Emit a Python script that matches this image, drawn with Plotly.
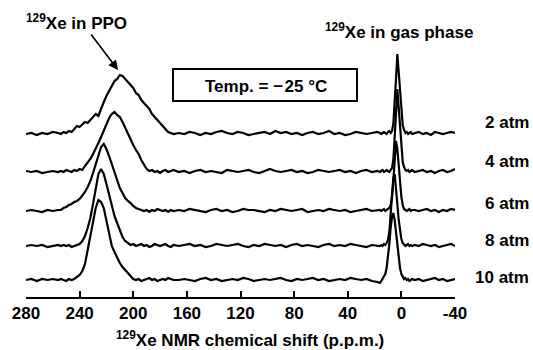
import plotly.graph_objects as go

# ---------------- data ----------------
# chemical-shift grid (p.p.m.)
ppm = ([280, 276, 272, 268, 264, 260, 256]
       + list(range(254, 169, -2))
       + list(range(166, 17, -4))
       + list(range(16, -9, -1))
       + list(range(-10, -41, -3)))

pressures = ["2 atm", "4 atm", "6 atm", "8 atm", "10 atm"]
# vertical offset of each spectrum's baseline (arbitrary stacking units)
offsets = [163, 125, 86, 51, 17]

spec_2atm = ([0, 1, -1, 1, 0, 2, 1]
             + [0, 2, 1, 3, 2, 5, 8, 7, 10, 12,
                11, 14, 16, 20, 18, 26, 32, 38, 43, 48,
                53, 55, 59, 58, 55, 52, 49, 46, 41, 39,
                34, 31, 28, 25, 20, 17, 14, 10, 8, 5,
                2, 1, 0]
             + [1, 0, 2, 1, -1, 1, 0, 2, 3, 1, 0, 2, 1, -1, 0, 1, 2, 0, 3, 1,
                2, 0, 1, -1, 1, 2, 0, 1, 3, 0, 1, -1, 0, 2, 1, 0, 1, 2]
             + [1, 0, 1, 2, 1, 0, 2, 3, 1, 3, 10, 28, 55, 80, 62, 38, 20, 9, 4, 1,
                2, 0, 1, 2, 0]
             + [1, 2, 0, 1, -1, 2, 1, 0, 1, 2, 1])

spec_4atm = ([1, 0, 1, -1, 0, 1, 0]
             + [1, 0, 2, 1, 0, 2, 1, 3, 2, 6,
                9, 13, 18, 23, 29, 35, 42, 49, 54, 58,
                60, 57, 55, 50, 44, 38, 32, 27, 22, 18,
                12, 7, 3, 1, 2, 0, 1, -1, 1, 2,
                0, 1, 2]
             + [0, 1, -1, 1, 2, 0, 1, 0, -1, 2, 1, 0, 1, 2, 0, -1, 1, 3, 1, 0,
                1, 2, 0, 1, -1, 0, 2, 1, 0, 1, 2, 0, 1, -1, 1, 2, 0, 1]
             + [0, 1, 2, 0, 1, 2, 1, 0, 2, 4, 12, 30, 58, 83, 65, 40, 22, 10, 5, 2,
                1, 2, 0, 1, 2]
             + [0, 1, 2, 0, 1, -1, 1, 2, 0, 1, 3])

spec_6atm = ([0, 1, 0, -1, 1, 0, 1]
             + [1, 3, 4, 6, 7, 9, 10, 12, 15, 19,
                24, 30, 38, 46, 56, 64, 67, 62, 55, 47,
                38, 30, 23, 18, 13, 10, 8, 5, 3, 2,
                1, 0, 1, -1, 1, 0, 2, 1, 0, 1,
                -1, 1, 0]
             + [1, 0, 2, 1, 0, -1, 1, 2, 0, 1, -1, 0, 2, 1, 1, 0, -1, 1, 0, 2,
                1, 0, 1, 2, -1, 0, 1, 0, 2, 1, 0, 1, -1, 0, 1, 2, 0, 1]
             + [1, 0, 1, 2, 0, 1, 2, 3, 6, 14, 30, 52, 70, 62, 45, 28, 14, 6, 2, 1,
                0, 1, 2, 0, 1]
             + [1, 0, 1, 2, 0, 1, -1, 1, 0, 2, 1])

spec_8atm = ([0, 1, 0, 1, -1, 0, 1]
             + [0, 1, 0, 1, -1, 0, 1, 2, 5, 10,
                18, 28, 42, 58, 72, 77, 72, 62, 52, 40,
                30, 23, 15, 9, 5, 3, 1, 2, 0, 1,
                2, 0, 1, -1, 0, 2, 1, 0, 1, 2,
                0, -1, 1]
             + [0, 1, 2, 0, 1, -1, 0, 2, 1, 0, 1, 2, 0, -1, 1, 0, 2, 1, 0, 1,
                -1, 1, 2, 0, 1, 0, -1, 1, 2, 0, 1, 0, 2, 1, 0, -1, 1, 0]
             + [0, 1, 0, 2, 1, 3, 6, 14, 30, 50, 68, 72, 60, 42, 26, 14, 7, 3, 1, 0,
                1, 2, 0, 1, 0]
             + [1, 0, 2, 1, 0, 1, -1, 0, 1, 2, 0])

spec_10atm = ([0, 1, -1, 1, 0, 1, 0]
              + [1, 0, -1, 1, 0, 1, 3, 5, 9, 16,
                 30, 44, 58, 72, 80, 78, 72, 60, 45, 34,
                 28, 22, 17, 13, 10, 6, 3, 1, 0, 1,
                 -1, 0, 1, 2, 0, 1, -1, 0, 1, 0,
                 2, 1, 0]
              + [0, 1, 0, -1, 1, 2, 0, 1, -1, 0, 1, 0, 2, 1, -1, 0, 1, 0, 1, 2,
                 0, -1, 1, 0, 1, 2, 0, 1, -1, 0, 1, 0, 2, 1, 0, 1, -1, -2]
              + [-3, -1, 1, 3, 6, 12, 22, 36, 52, 63, 67, 60, 48, 34, 22, 12, 6, 3, 1, 2,
                 0, 1, -1, 0, 1]
              + [0, 1, -1, 0, 1, 2, 0, 1, -1, 0, 1])

spectra = [spec_2atm, spec_4atm, spec_6atm, spec_8atm, spec_10atm]

tick_vals = [280, 240, 200, 160, 120, 80, 40, 0, -40]
tick_text = ["280", "240", "200", "160", "120", "80", "40", "0", "-40"]

# ---------------- figure ----------------
W, H = 533, 350
L, R = 26, 455          # plot-area left/right pixel
TOP, BOT = 0, 297       # plot-area top/bottom pixel

def px(x):
    return (x - L) / (R - L)

def py(y):
    return (BOT - y) / (BOT - TOP)

FONT = "Arial, Liberation Sans, sans-serif"

def bold(s):
    return "<b>" + s + "</b>"

fig = go.Figure()
for name, off, spec in zip(pressures, offsets, spectra):
    fig.add_trace(go.Scatter(
        x=ppm, y=[off + v for v in spec], mode="lines", name=name,
        line=dict(color="black", width=2.2), showlegend=False,
        hoverinfo="skip"))

annotations = []
label_y = [122, 161, 203, 240, 277]
for name, ly in zip(pressures, label_y):
    annotations.append(dict(
        text=bold(name), xref="paper", yref="paper", x=px(531), y=py(ly),
        xanchor="right", yanchor="middle", showarrow=False,
        font=dict(size=17, color="black", family=FONT)))

annotations += [
    dict(text=bold("<sup>129</sup>Xe in PPO"), xref="paper", yref="paper",
         x=px(24), y=py(22), xanchor="left", yanchor="middle",
         showarrow=False, font=dict(size=17, color="black", family=FONT)),
    dict(text=bold("<sup>129</sup>Xe in gas phase"), xref="paper", yref="paper",
         x=px(399), y=py(31), xanchor="center", yanchor="middle",
         showarrow=False, font=dict(size=17, color="black", family=FONT)),
    dict(text=bold("Temp. = \u2212\u200a25 \u00b0C"), xref="paper", yref="paper",
         x=px(266), y=py(86), xanchor="center", yanchor="middle",
         showarrow=False, font=dict(size=17, color="black", family=FONT)),
    dict(text=bold("<sup>129</sup>Xe NMR chemical shift (p.p.m.)"), xref="paper",
         yref="paper", x=px(250), y=py(339), xanchor="center",
         yanchor="middle", showarrow=False,
         font=dict(size=17, color="black", family=FONT)),
    dict(text="", xref="paper", yref="paper", x=px(118), y=py(70),
         ax=-28, ay=-37, showarrow=True, arrowhead=2, arrowsize=1.2,
         arrowwidth=1.6, arrowcolor="black"),
]

shapes = [dict(type="rect", xref="paper", yref="paper",
               x0=px(173), x1=px(357), y0=py(69), y1=py(101),
               line=dict(color="black", width=2), fillcolor="rgba(0,0,0,0)")]

fig.update_layout(
    width=W, height=H,
    margin=dict(l=L, r=W - R, t=TOP, b=H - BOT, pad=0),
    paper_bgcolor="white", plot_bgcolor="white",
    annotations=annotations, shapes=shapes,
    xaxis=dict(range=[280, -40], tickvals=tick_vals,
               ticktext=[bold(t) for t in tick_text],
               ticks="inside", ticklen=6, tickwidth=2, tickcolor="black",
               showline=True, linecolor="black", linewidth=2,
               showgrid=False, zeroline=False,
               tickfont=dict(size=17, color="black", family=FONT)),
    yaxis=dict(range=[0, BOT - TOP], visible=False, showgrid=False,
               zeroline=False),
)

fig.write_html("out.html")
